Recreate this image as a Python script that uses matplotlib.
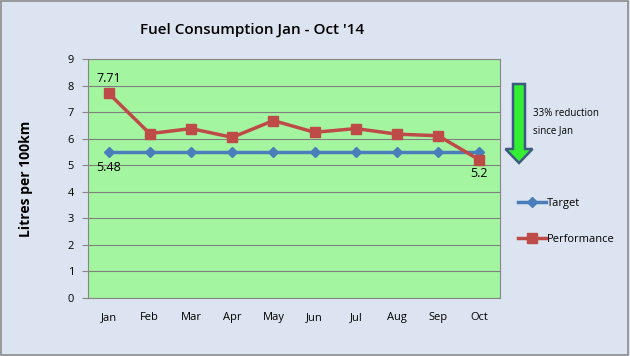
import matplotlib.pyplot as plt
from matplotlib.patches import FancyArrow, Rectangle

months = ['Jan', 'Feb', 'Mar', 'Apr', 'May', 'Jun', 'Jul', 'Aug', 'Sep', 'Oct']
target = [5.48] * 10
performance = [7.71, 6.19, 6.38, 6.05, 6.68, 6.24, 6.38, 6.17, 6.11, 5.2]

plt.rcParams['font.family'] = ['Open Sans', 'DejaVu Sans']

fig = plt.figure(figsize=(6.3, 3.56), dpi=100)
fig.patch.set_facecolor('#dbe4f0')
fig.patches.append(Rectangle((0.002, 0.003), 0.995, 0.993, transform=fig.transFigure,
                             fill=False, edgecolor='#8c8c8c', linewidth=1.2))

ax = fig.add_axes([88 / 630, 1 - 298 / 356, 412 / 630, 239 / 356])
ax.set_facecolor('#a3f5a0')
x = list(range(len(months)))
ax.plot(x, target, color='#4a7ebb', linewidth=2.5, marker='D', markersize=5, label='Target')
ax.plot(x, performance, color='#be4b48', linewidth=2.5, marker='s', markersize=7, label='Performance')

ax.set_xlim(-0.5, 9.5)
ax.set_ylim(0, 9)
ax.set_yticks(range(10))
ax.set_xticks(x)
ax.set_xticklabels(months)
ax.tick_params(axis='both', labelsize=8, length=0, pad=10)
ax.tick_params(axis='y', length=4, color='#868686', direction='out', pad=6)
ax.grid(axis='y', color='#7f7f7f', linewidth=0.8)
ax.set_axisbelow(True)
for s in ax.spines.values():
    s.set_color('#868686')

ax.set_ylabel('Litres per 100km', fontsize=10, fontweight='bold', labelpad=25)
fig.text(0.4, 1 - 30 / 356, "Fuel Consumption Jan - Oct '14", ha='center', va='center',
         fontsize=11, fontweight='semibold')

ax.text(0, 7.71 + 0.55, '7.71', ha='center', va='center', fontsize=9)
ax.text(0, 5.48 - 0.55, '5.48', ha='center', va='center', fontsize=9)
ax.text(9, 5.2 - 0.5, '5.2', ha='center', va='center', fontsize=9)

arrow = FancyArrow(519 / 630, 1 - 84 / 356, 0, -79 / 356, width=12 / 630,
                   head_width=27 / 630, head_length=14 / 356, length_includes_head=True,
                   transform=fig.transFigure, facecolor='#33ee33', edgecolor='#3d5a80',
                   linewidth=1.8)
fig.patches.append(arrow)
fig.text(533 / 630, 1 - 122 / 356, '33% reduction\nsince Jan', ha='left', va='center',
         fontsize=7, linespacing=1.7)

leg = ax.legend(loc='center left', bbox_to_anchor=(1.02, 0.32), frameon=False, fontsize=8,
                labelspacing=2.2, handlelength=2.5, handletextpad=0.1)

fig.savefig('out.png', dpi=100, facecolor=fig.get_facecolor())
